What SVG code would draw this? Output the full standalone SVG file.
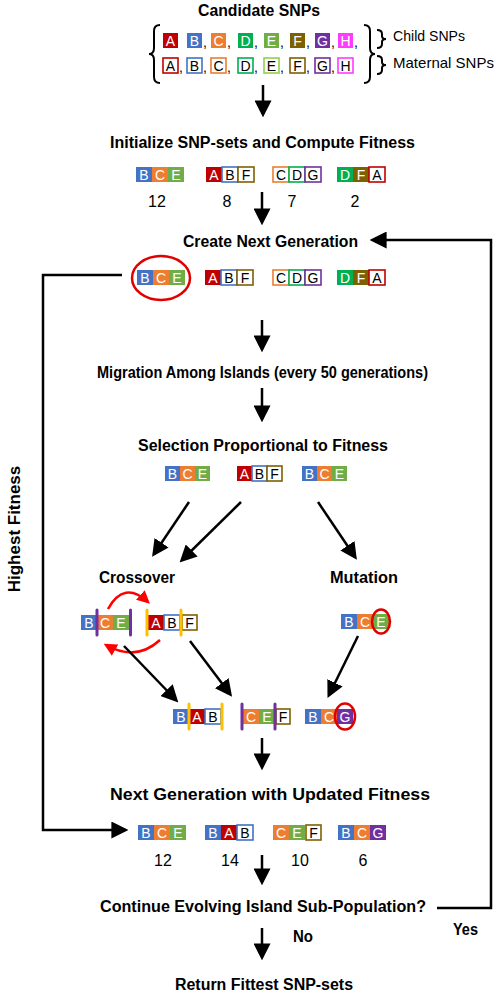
<svg xmlns="http://www.w3.org/2000/svg" width="498" height="995" viewBox="0 0 498 995">
<style>
text{font-family:"Liberation Sans",Arial,sans-serif;}
.h{font-weight:bold;font-size:16px;fill:#000;}
.n{font-size:16px;text-anchor:middle;fill:#000;}
.lab{font-size:15px;fill:#000;}
.L{font-size:14px;text-anchor:middle;fill:#fff;}
.K{font-size:14px;text-anchor:middle;fill:#000;}
.c{font-size:14px;fill:#000;}
.o{fill:#fff;stroke-width:1.6;}
.ar{fill:none;stroke:#000;stroke-width:2.5;marker-end:url(#ah);}
.rd{fill:none;stroke:#E00000;stroke-width:2.5;}
.rarc{fill:none;stroke:#FF0000;stroke-width:2.5;marker-end:url(#rh);}
.br{fill:none;stroke:#000;stroke-width:2;}
.pb{stroke:#7030A0;stroke-width:3;stroke-linecap:round;}
.yb{stroke:#FFC000;stroke-width:3;stroke-linecap:round;}
</style>
<defs>
<marker id="ah" viewBox="0 0 10 10" refX="8" refY="5" markerWidth="6.8" markerHeight="6.8" orient="auto" markerUnits="strokeWidth">
<path d="M0,0 L10,5 L0,10 z" fill="#000"/>
</marker>
<marker id="rh" viewBox="0 0 10 10" refX="8" refY="5" markerWidth="5.2" markerHeight="5.2" orient="auto" markerUnits="strokeWidth">
<path d="M0,0 L10,5 L0,10 z" fill="#FF0000"/>
</marker>
</defs>

<g id="candidate">
<text class="h" x="198" y="16" textLength="122" lengthAdjust="spacingAndGlyphs">Candidate SNPs</text>
<path class="br" d="M160,25 Q154,25 154,31 L154,48 Q154,54 149,54 Q154,54 154,60 L154,77 Q154,83 160,83"/>
<path class="br" d="M364,25 Q370,25 370,31 L370,48 Q370,54 375,54 Q370,54 370,60 L370,77 Q370,83 364,83"/>
<path class="br" d="M377,30 Q382,30 382,34 L382,36 Q382,39 386,39 Q382,39 382,42 L382,44 Q382,48 377,48"/>
<path class="br" d="M377,56 Q382,56 382,60 L382,62 Q382,65 386,65 Q382,65 382,68 L382,70 Q382,74 377,74"/>
<text class="lab" x="393" y="41" textLength="72" lengthAdjust="spacingAndGlyphs">Child SNPs</text>
<text class="lab" x="393" y="68" textLength="101" lengthAdjust="spacingAndGlyphs">Maternal SNPs</text>
<rect x="163" y="33" width="15" height="15" fill="#C00000"/><text class="L" x="170.5" y="46">A</text>
<rect x="187" y="33" width="15" height="15" fill="#4472C4"/><text class="L" x="194.5" y="46">B</text><text class="c" x="203" y="47">,</text>
<rect x="211" y="33" width="15" height="15" fill="#ED7D31"/><text class="L" x="218.5" y="46">C</text><text class="c" x="227" y="47">,</text>
<rect x="238" y="33" width="15" height="15" fill="#00B050"/><text class="L" x="245.5" y="46">D</text><text class="c" x="254" y="47">,</text>
<rect x="264" y="33" width="15" height="15" fill="#70AD47"/><text class="L" x="271.5" y="46">E</text><text class="c" x="280" y="47">,</text>
<rect x="290" y="33" width="15" height="15" fill="#7F6000"/><text class="L" x="297.5" y="46">F</text><text class="c" x="306" y="47">,</text>
<rect x="315" y="33" width="15" height="15" fill="#7030A0"/><text class="L" x="322.5" y="46">G</text><text class="c" x="331" y="47">,</text>
<rect x="338" y="33" width="15" height="15" fill="#FF3BFF"/><text class="L" x="345.5" y="46">H</text><text class="c" x="354" y="47">,</text>
<rect class="o" x="163" y="58" width="15" height="15" stroke="#C00000"/><text class="K" x="170.5" y="71">A</text><text class="c" x="179" y="72">,</text>
<rect class="o" x="187" y="58" width="15" height="15" stroke="#4472C4"/><text class="K" x="194.5" y="71">B</text><text class="c" x="203" y="72">,</text>
<rect class="o" x="211" y="58" width="15" height="15" stroke="#ED7D31"/><text class="K" x="218.5" y="71">C</text><text class="c" x="227" y="72">,</text>
<rect class="o" x="238" y="58" width="15" height="15" stroke="#00B050"/><text class="K" x="245.5" y="71">D</text><text class="c" x="254" y="72">,</text>
<rect class="o" x="264" y="58" width="15" height="15" stroke="#92D050"/><text class="K" x="271.5" y="71">E</text><text class="c" x="280" y="72">,</text>
<rect class="o" x="290" y="58" width="15" height="15" stroke="#7F6000"/><text class="K" x="297.5" y="71">F</text><text class="c" x="306" y="72">,</text>
<rect class="o" x="315" y="58" width="15" height="15" stroke="#7030A0"/><text class="K" x="322.5" y="71">G</text><text class="c" x="331" y="72">,</text>
<rect class="o" x="338" y="58" width="15" height="15" stroke="#FF3BFF"/><text class="K" x="345.5" y="71">H</text>
</g>

<g id="initialize">
<text class="h" x="110" y="148" textLength="305" lengthAdjust="spacingAndGlyphs">Initialize SNP-sets and Compute Fitness</text>
<rect x="136" y="167" width="16" height="15" fill="#4472C4"/><text class="L" x="144" y="180">B</text>
<rect x="152" y="167" width="16" height="15" fill="#ED7D31"/><text class="L" x="160" y="180">C</text>
<rect x="168" y="167" width="16" height="15" fill="#70AD47"/><text class="L" x="176" y="180">E</text>
<rect x="206" y="167" width="16" height="15" fill="#C00000"/><text class="L" x="214" y="180">A</text>
<rect class="o" x="222" y="167" width="16" height="15" stroke="#4472C4"/><text class="K" x="230" y="180">B</text>
<rect class="o" x="238" y="167" width="16" height="15" stroke="#7F6000"/><text class="K" x="246" y="180">F</text>
<rect class="o" x="273" y="167" width="16" height="15" stroke="#ED7D31"/><text class="K" x="281" y="180">C</text>
<rect class="o" x="289" y="167" width="16" height="15" stroke="#00B050"/><text class="K" x="297" y="180">D</text>
<rect class="o" x="305" y="167" width="16" height="15" stroke="#7030A0"/><text class="K" x="313" y="180">G</text>
<rect x="337" y="167" width="16" height="15" fill="#00B050"/><text class="L" x="345" y="180">D</text>
<rect x="353" y="167" width="16" height="15" fill="#7F6000"/><text class="L" x="361" y="180">F</text>
<rect class="o" x="369" y="167" width="16" height="15" stroke="#C00000"/><text class="K" x="377" y="180">A</text>
<text class="n" x="157" y="207">12</text>
<text class="n" x="227" y="207">8</text>
<text class="n" x="292" y="207">7</text>
<text class="n" x="355" y="207">2</text>
</g>

<g id="create">
<text class="h" x="183" y="247" textLength="175" lengthAdjust="spacingAndGlyphs">Create Next Generation</text>
<rect x="137" y="270" width="16" height="15" fill="#4472C4"/><text class="L" x="145" y="283">B</text>
<rect x="153" y="270" width="16" height="15" fill="#ED7D31"/><text class="L" x="161" y="283">C</text>
<rect x="169" y="270" width="16" height="15" fill="#70AD47"/><text class="L" x="177" y="283">E</text>
<ellipse class="rd" cx="161" cy="278" rx="29" ry="22"/>
<rect x="205" y="270" width="16" height="15" fill="#C00000"/><text class="L" x="213" y="283">A</text>
<rect class="o" x="221" y="270" width="16" height="15" stroke="#4472C4"/><text class="K" x="229" y="283">B</text>
<rect class="o" x="237" y="270" width="16" height="15" stroke="#7F6000"/><text class="K" x="245" y="283">F</text>
<rect class="o" x="273" y="270" width="16" height="15" stroke="#ED7D31"/><text class="K" x="281" y="283">C</text>
<rect class="o" x="289" y="270" width="16" height="15" stroke="#00B050"/><text class="K" x="297" y="283">D</text>
<rect class="o" x="305" y="270" width="16" height="15" stroke="#7030A0"/><text class="K" x="313" y="283">G</text>
<rect x="337" y="270" width="16" height="15" fill="#00B050"/><text class="L" x="345" y="283">D</text>
<rect x="353" y="270" width="16" height="15" fill="#7F6000"/><text class="L" x="361" y="283">F</text>
<rect class="o" x="369" y="270" width="16" height="15" stroke="#C00000"/><text class="K" x="377" y="283">A</text>
</g>

<g id="migration">
<text class="h" x="97" y="378" textLength="331" lengthAdjust="spacingAndGlyphs">Migration Among Islands (every 50 generations)</text>
</g>

<g id="selection">
<text class="h" x="138" y="451" textLength="250" lengthAdjust="spacingAndGlyphs">Selection Proportional to Fitness</text>
<rect x="165" y="466" width="15" height="15" fill="#4472C4"/><text class="L" x="172.5" y="479">B</text>
<rect x="180" y="466" width="15" height="15" fill="#ED7D31"/><text class="L" x="187.5" y="479">C</text>
<rect x="195" y="466" width="15" height="15" fill="#70AD47"/><text class="L" x="202.5" y="479">E</text>
<rect x="237" y="466" width="15" height="15" fill="#C00000"/><text class="L" x="244.5" y="479">A</text>
<rect class="o" x="252" y="466" width="15" height="15" stroke="#4472C4"/><text class="K" x="259.5" y="479">B</text>
<rect class="o" x="267" y="466" width="15" height="15" stroke="#7F6000"/><text class="K" x="274.5" y="479">F</text>
<rect x="302" y="466" width="15" height="15" fill="#4472C4"/><text class="L" x="309.5" y="479">B</text>
<rect x="317" y="466" width="15" height="15" fill="#ED7D31"/><text class="L" x="324.5" y="479">C</text>
<rect x="332" y="466" width="15" height="15" fill="#70AD47"/><text class="L" x="339.5" y="479">E</text>
</g>

<g id="crossover">
<text class="h" x="99" y="583" textLength="76" lengthAdjust="spacingAndGlyphs">Crossover</text>
<rect x="81" y="615" width="16" height="15" fill="#4472C4"/><text class="L" x="89" y="628">B</text>
<rect x="97" y="615" width="16" height="15" fill="#ED7D31"/><text class="L" x="105" y="628">C</text>
<rect x="113" y="615" width="17" height="15" fill="#70AD47"/><text class="L" x="121" y="628">E</text>
<line class="pb" x1="97" y1="610" x2="97" y2="635"/>
<line class="pb" x1="130.5" y1="610" x2="130.5" y2="635"/>
<rect x="148" y="615" width="16" height="15" fill="#C00000"/><text class="L" x="156" y="628">A</text>
<rect class="o" x="164" y="615" width="16" height="15" stroke="#4472C4"/><text class="K" x="172" y="628">B</text>
<rect class="o" x="182" y="615" width="15" height="15" stroke="#7F6000"/><text class="K" x="189.5" y="628">F</text>
<line class="yb" x1="147" y1="610" x2="147" y2="635"/>
<line class="yb" x1="181" y1="610" x2="181" y2="635"/>
<path class="rarc" d="M108,609 Q124,580 148,602"/>
<path class="rarc" d="M160,640 Q136,662 106,645"/>
</g>

<g id="mutation">
<text class="h" x="330" y="583" textLength="68" lengthAdjust="spacingAndGlyphs">Mutation</text>
<rect x="341" y="614" width="16" height="15" fill="#4472C4"/><text class="L" x="349" y="627">B</text>
<rect x="357" y="614" width="16" height="15" fill="#ED7D31"/><text class="L" x="365" y="627">C</text>
<rect x="373" y="614" width="16" height="15" fill="#70AD47"/><text class="L" x="381" y="627">E</text>
<ellipse class="rd" cx="381" cy="621.5" rx="9" ry="12"/>
</g>

<g id="offspring">
<rect x="173" y="709" width="16" height="15" fill="#4472C4"/><text class="L" x="181" y="722">B</text>
<rect x="189" y="709" width="16" height="15" fill="#C00000"/><text class="L" x="197" y="722">A</text>
<rect class="o" x="205" y="709" width="16" height="15" stroke="#4472C4"/><text class="K" x="213" y="722">B</text>
<line class="yb" x1="189" y1="704" x2="189" y2="729"/>
<line class="yb" x1="222" y1="704" x2="222" y2="729"/>
<rect x="243" y="709" width="16" height="15" fill="#ED7D31"/><text class="L" x="251" y="722">C</text>
<rect x="259" y="709" width="16" height="15" fill="#70AD47"/><text class="L" x="267" y="722">E</text>
<rect class="o" x="276" y="709" width="14" height="15" stroke="#7F6000"/><text class="K" x="283" y="722">F</text>
<line class="pb" x1="242" y1="704" x2="242" y2="729"/>
<line class="pb" x1="275" y1="704" x2="275" y2="729"/>
<rect x="305" y="709" width="16" height="15" fill="#4472C4"/><text class="L" x="313" y="722">B</text>
<rect x="321" y="709" width="16" height="15" fill="#ED7D31"/><text class="L" x="329" y="722">C</text>
<rect x="337" y="709" width="16" height="15" fill="#7030A0"/><text class="L" x="345" y="722">G</text>
<ellipse class="rd" cx="345" cy="716.5" rx="10" ry="13"/>
</g>

<g id="nextgen">
<text class="h" x="110" y="800" textLength="320" lengthAdjust="spacingAndGlyphs">Next Generation with Updated Fitness</text>
<rect x="138" y="825" width="16" height="15" fill="#4472C4"/><text class="L" x="146" y="838">B</text>
<rect x="154" y="825" width="16" height="15" fill="#ED7D31"/><text class="L" x="162" y="838">C</text>
<rect x="170" y="825" width="16" height="15" fill="#70AD47"/><text class="L" x="178" y="838">E</text>
<rect x="205" y="825" width="16" height="15" fill="#4472C4"/><text class="L" x="213" y="838">B</text>
<rect x="221" y="825" width="16" height="15" fill="#C00000"/><text class="L" x="229" y="838">A</text>
<rect class="o" x="237" y="825" width="16" height="15" stroke="#4472C4"/><text class="K" x="245" y="838">B</text>
<rect x="273" y="825" width="16" height="15" fill="#ED7D31"/><text class="L" x="281" y="838">C</text>
<rect x="289" y="825" width="16" height="15" fill="#70AD47"/><text class="L" x="297" y="838">E</text>
<rect class="o" x="306" y="825" width="15" height="15" stroke="#7F6000"/><text class="K" x="313.5" y="838">F</text>
<rect x="338" y="825" width="16" height="15" fill="#4472C4"/><text class="L" x="346" y="838">B</text>
<rect x="354" y="825" width="16" height="15" fill="#ED7D31"/><text class="L" x="362" y="838">C</text>
<rect x="370" y="825" width="16" height="15" fill="#7030A0"/><text class="L" x="378" y="838">G</text>
<text class="n" x="163" y="866">12</text>
<text class="n" x="230" y="866">14</text>
<text class="n" x="300" y="866">10</text>
<text class="n" x="363" y="866">6</text>
</g>

<g id="continue">
<text class="h" x="100" y="912" textLength="326" lengthAdjust="spacingAndGlyphs">Continue Evolving Island Sub-Population?</text>
</g>

<g id="return">
<text class="h" x="175" y="990" textLength="178" lengthAdjust="spacingAndGlyphs">Return Fittest SNP-sets</text>
</g>

<g id="connectors">
<line class="ar" x1="263" y1="85" x2="263" y2="114"/>
<line class="ar" x1="262" y1="192" x2="262" y2="222"/>
<line class="ar" x1="262" y1="320" x2="262" y2="349"/>
<line class="ar" x1="262" y1="388" x2="262" y2="419"/>
<line class="ar" x1="189" y1="502" x2="154" y2="554"/>
<line class="ar" x1="241" y1="502" x2="182" y2="560"/>
<line class="ar" x1="318" y1="502" x2="355" y2="557"/>
<line class="ar" x1="124" y1="646" x2="176" y2="700"/>
<line class="ar" x1="190" y1="641" x2="230" y2="694"/>
<line class="ar" x1="358" y1="636" x2="329" y2="695"/>
<line class="ar" x1="262" y1="738" x2="262" y2="767"/>
<line class="ar" x1="262" y1="855" x2="262" y2="882"/>
<line class="ar" x1="262" y1="928" x2="262" y2="957"/>
<polyline class="ar" points="437,908 491,908 491,240 373,240"/>
<polyline class="ar" points="122,275 43,275 43,830 125,830"/>
<text class="h" x="293" y="942" textLength="20" lengthAdjust="spacingAndGlyphs">No</text>
<text class="h" x="453" y="935" textLength="25" lengthAdjust="spacingAndGlyphs">Yes</text>
<text class="h" x="20" y="529" text-anchor="middle" transform="rotate(-90 20 529)" style="font-size:17px">Highest Fitness</text>
</g>
</svg>
